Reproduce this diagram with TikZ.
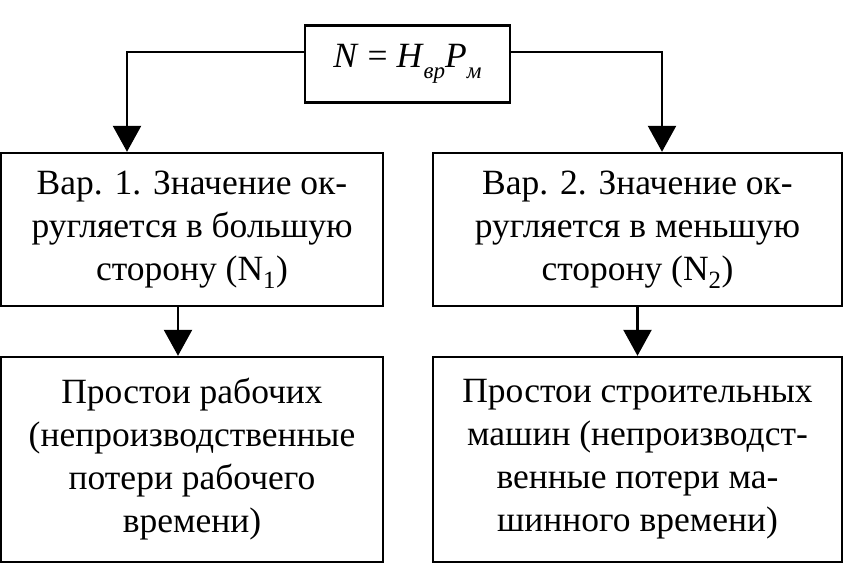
\documentclass[tikz,border=0pt]{standalone}
\usepackage{fontspec}
\setmainfont{Liberation Serif}
\usetikzlibrary{arrows.meta,calc}
\newcommand{\lowsub}[1]{\raisebox{-0.3em}{\fontsize{23}{23}\selectfont\itshape #1}}
\tikzset{
  box/.style={draw, line width=2.4pt, align=center, inner sep=0pt,
    font=\fontsize{35.5}{43}\selectfont},
  arr/.style={line width=2.4pt, -{Triangle[width=28pt,length=26pt]}},
}
\begin{document}
\begin{tikzpicture}[x=1pt,y=-1pt]
\useasboundingbox (0,0) rectangle (856,584);
\node[box, minimum width=205pt, minimum height=77pt] (top) at (407.5,64)
  {\textit{N} = \textit{H}\lowsub{вр}\textit{P}\lowsub{м}};
\node[box, minimum width=382pt, minimum height=153pt] (b1) at (192,229.5)
  {Вар. 1. Значение ок-\\ругляется в большую\\сторону (N\textsubscript{1})};
\node[box, minimum width=409pt, minimum height=153pt] (b2) at (637.5,229.5)
  {Вар. 2. Значение ок-\\ругляется в меньшую\\сторону (N\textsubscript{2})};
\node[box, minimum width=382pt, minimum height=205pt] (b3) at (192,459.5)
  {Простои рабочих\\(непроизводственные\\потери рабочего\\времени)};
\node[box, minimum width=409pt, minimum height=205pt] (b4) at (637.5,459.5)
  {Простои строительных\\машин (непроизводст-\\венные потери ма-\\шинного времени)};
\draw[arr] ($(top.west)+(0,-12)$) -| ([xshift=-65pt]b1.north);
\draw[arr] ($(top.east)+(0,-12)$) -| ([xshift=24.5pt]b2.north);
\draw[arr] ([xshift=-14pt]b1.south) -- ([xshift=-14pt]b3.north);
\draw[arr] (b2.south) -- (b4.north);
\end{tikzpicture}
\end{document}
